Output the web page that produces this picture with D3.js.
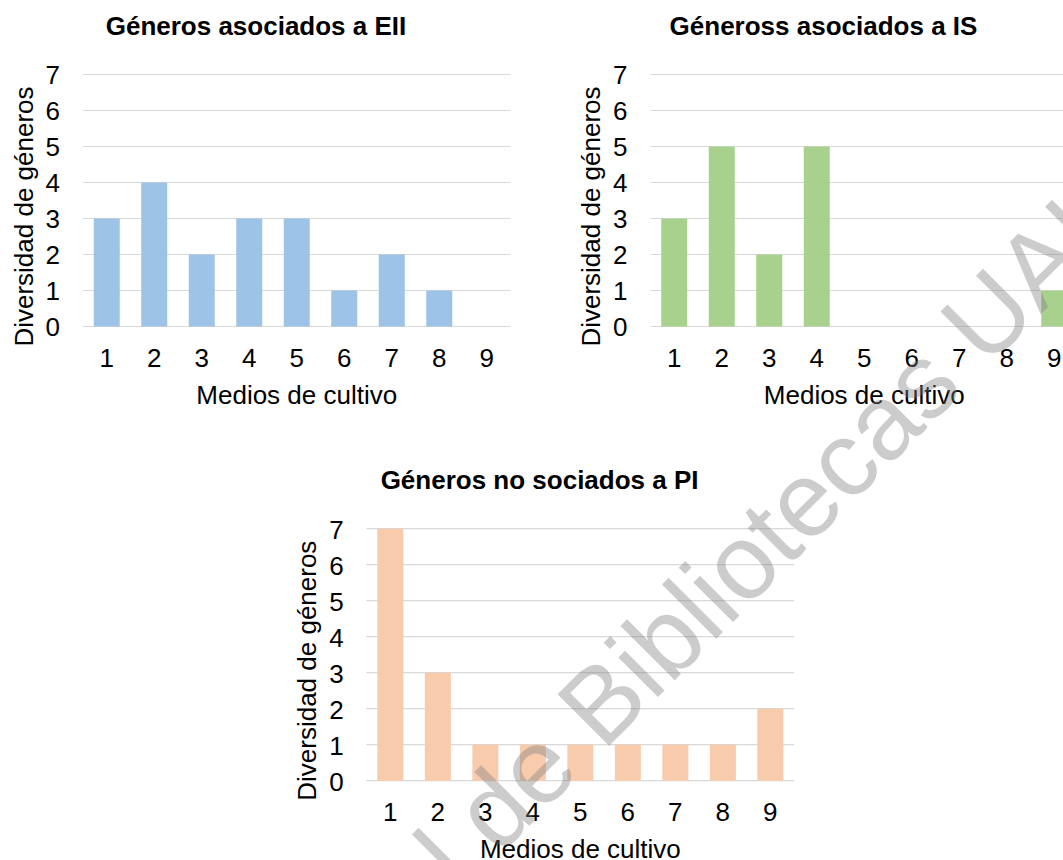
<!DOCTYPE html>
<html>
<head>
<meta charset="utf-8">
<script src="https://cdn.jsdelivr.net/npm/d3@7"></script>
<style>
  html, body { margin: 0; padding: 0; background: #fff; }
  svg { display: block; font-family: "Liberation Sans", Arial, sans-serif; }
</style>
</head>
<body>
<svg id="chart" width="1063" height="860"></svg>
<script>
// Culture media (x categories) and number of genera found on each
const mediums = ["1", "2", "3", "4", "5", "6", "7", "8", "9"];
const eiiValues = [3, 4, 2, 3, 3, 1, 2, 1, 0];
const isValues = [3, 5, 2, 5, 0, 0, 0, 0, 1];
const piValues = [7, 3, 1, 1, 1, 1, 1, 1, 2];
const yTicks = [0, 1, 2, 3, 4, 5, 6, 7];

const titles = ["Géneros asociados a EII", "Géneross asociados a IS", "Géneros no sociados a PI"];
const xAxisTitle = "Medios de cultivo";
const yAxisTitle = "Diversidad de géneros";
const watermarkText = "Digital de Bibliotecas UAL";

const svg = d3.select("#chart");
svg.append("rect").attr("width", 1063).attr("height", 860).attr("fill", "#fff");

const plotW = 427.5, plotH = 252;
const fontSize = 26;

function drawPanel(left, top, title, values, color) {
  const g = svg.append("g");

  const x = d3.scaleBand()
    .domain(mediums)
    .range([left, left + plotW])
    .paddingInner(0.4526)
    .paddingOuter(0.2263);

  const y = d3.scaleLinear().domain([0, 7]).range([top + plotH, top]);

  // horizontal gridlines (the zero line doubles as the category axis)
  g.append("g").selectAll("line")
    .data(yTicks)
    .join("line")
    .attr("x1", left).attr("x2", left + plotW)
    .attr("y1", d => y(d)).attr("y2", d => y(d))
    .attr("stroke", "#d9d9d9")
    .attr("stroke-width", 1.2);

  // bars
  g.append("g").selectAll("rect")
    .data(mediums.map((m, i) => ({ m, v: values[i] })))
    .join("rect")
    .attr("x", d => x(d.m))
    .attr("width", x.bandwidth())
    .attr("y", d => y(d.v))
    .attr("height", d => y(0) - y(d.v))
    .attr("fill", color);

  // value axis labels
  const yAxis = d3.axisLeft(y).tickValues(yTicks).tickSize(0).tickPadding(23).tickFormat(d3.format("d"));
  const ya = g.append("g").attr("transform", `translate(${left},0)`).call(yAxis);
  ya.select(".domain").remove();
  ya.selectAll("text")
    .attr("font-size", fontSize)
    .attr("font-family", "Liberation Sans, Arial, sans-serif")
    .attr("fill", "#000")
    .attr("dy", "0.36em");

  // category axis labels
  const xAxis = d3.axisBottom(x).tickSize(0).tickPadding(0);
  const xa = g.append("g").attr("transform", `translate(0,${top + plotH})`).call(xAxis);
  xa.select(".domain").remove();
  xa.selectAll("text")
    .attr("font-size", fontSize)
    .attr("font-family", "Liberation Sans, Arial, sans-serif")
    .attr("fill", "#000")
    .attr("y", 40.5)
    .attr("dy", 0);

  // chart title
  g.append("text")
    .attr("x", left + 173)
    .attr("y", top - 39.3)
    .attr("text-anchor", "middle")
    .attr("font-size", fontSize)
    .attr("font-weight", "bold")
    .attr("fill", "#000")
    .text(title);

  // axis titles
  g.append("text")
    .attr("x", left + plotW / 2)
    .attr("y", top + plotH + 77)
    .attr("text-anchor", "middle")
    .attr("font-size", fontSize)
    .attr("fill", "#000")
    .text(xAxisTitle);

  g.append("text")
    .attr("transform", `translate(${left - 50.5},${top + 142}) rotate(-90)`)
    .attr("text-anchor", "middle")
    .attr("font-size", fontSize)
    .attr("fill", "#000")
    .text(yAxisTitle);
}

drawPanel(83, 74.5, titles[0], eiiValues, "#9dc3e6");
drawPanel(650.5, 74.5, titles[1], isValues, "#a9d18e");
drawPanel(366.6, 528.7, titles[2], piValues, "#f8cbad");

// library watermark across the lower panel
const wm = svg.append("text")
  .attr("font-size", 106)
  .attr("fill", "#808080")
  .attr("fill-opacity", 0.4)
  .text(watermarkText);
const prefix = wm.node().getSubStringLength(0, "Digital de ".length);
wm.attr("x", -prefix)
  .attr("transform", "translate(603,752) rotate(-45)");
</script>
</body>
</html>
